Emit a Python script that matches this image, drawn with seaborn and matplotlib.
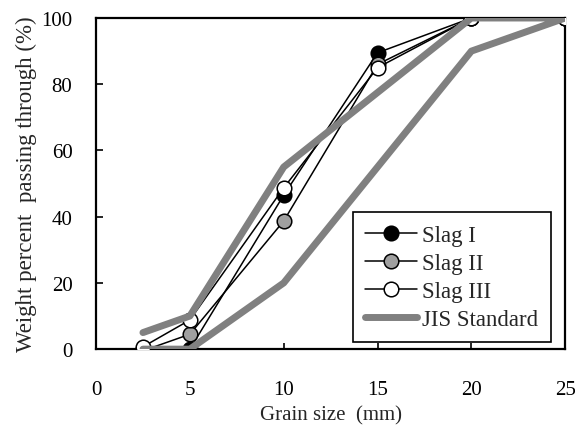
import pandas as pd
import numpy as np
import matplotlib
matplotlib.use('Agg')
import matplotlib.pyplot as plt
import seaborn as sns

# grain size (mm) and weight percent passing
grain = [2.5, 5, 10, 15, 20, 25]
slag1 = [0, 0, 46.5, 89.5, 100, 100]
slag2 = [-0.5, 4.5, 38.7, 86, 100, 100]
slag3 = [0.7, 8.8, 48.7, 85, 100, 100]

# JIS standard envelope (upper bound then lower bound back)
jis_x = [2.5, 5, 10, 20, 25, 20, 10, 5, 2.5]
jis_y = [5, 10, 55, 100, 100, 90, 20, 0, 0]

sns.set_style('white')
plt.rcParams['font.family'] = ['Liberation Serif', 'DejaVu Serif']
plt.rcParams['font.size'] = 15

fig = plt.figure(figsize=(5.75, 4.27), dpi=100)
ax = fig.add_axes([0.167, 0.180, 0.816, 0.7755])

series = [('Slag I', slag1, 'black'), ('Slag II', slag2, '#a0a0a0'), ('Slag III', slag3, 'white')]
for name, vals, fc in series:
    df = pd.DataFrame({'x': grain, 'y': vals})
    sns.lineplot(data=df, x='x', y='y', ax=ax, color='black', lw=1.1,
                 marker='o', markersize=10.5, markerfacecolor=fc,
                 markeredgecolor='black', markeredgewidth=1.1, label=name,
                 estimator=None, sort=False, zorder=3)

jis = pd.DataFrame({'x': jis_x, 'y': jis_y})
sns.lineplot(data=jis, x='x', y='y', ax=ax, color='#808080', lw=5,
             estimator=None, sort=False, label='JIS Standard', zorder=4)

ax.set_xlim(0, 25)
ax.set_ylim(0, 100)
ax.set_xticks([0, 5, 10, 15, 20, 25])
ax.set_yticks([0, 20, 40, 60, 80, 100])
ax.tick_params(direction='in', width=1.2, colors='black', labelsize=15,
               left=True, bottom=True, top=False, right=False)
ax.tick_params(axis='x', length=4, pad=22)
ax.tick_params(axis='y', length=5, pad=17)
for s in ax.spines.values():
    s.set_color('black')
    s.set_linewidth(1.6)
ax.set_xlabel('Grain size  (mm)', fontsize=15, labelpad=5)
ax.set_ylabel('Weight percent  passing through (%)', fontsize=16.5, labelpad=3)

leg = ax.legend(loc='lower right', bbox_to_anchor=(0.970, 0.021), borderaxespad=0,
                frameon=True, fancybox=False, edgecolor='black', framealpha=1,
                fontsize=16.5, handlelength=2.27, borderpad=0.55, labelspacing=0.3,
                handletextpad=0.22)
leg.get_frame().set_linewidth(1.2)

fig.savefig('out.png', dpi=100)
